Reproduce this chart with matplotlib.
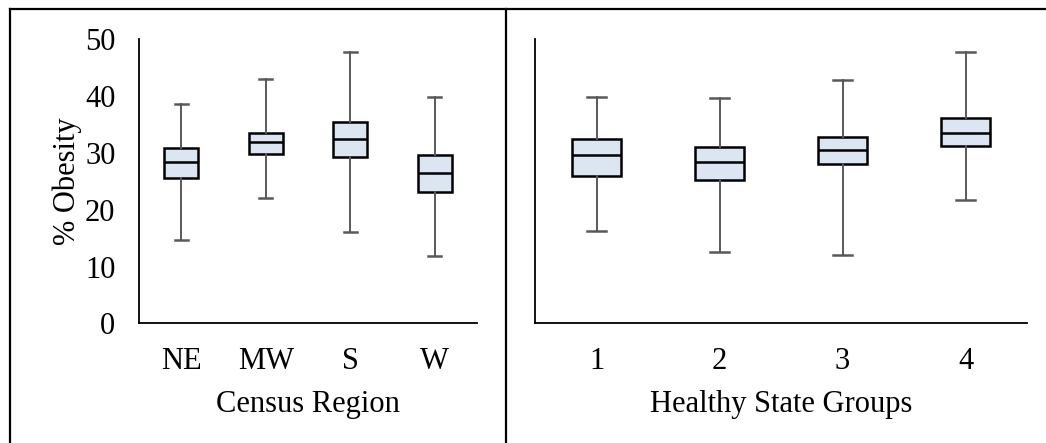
import matplotlib.pyplot as plt
from matplotlib.lines import Line2D

plt.rcParams["font.family"] = ["Liberation Serif", "DejaVu Serif"]

# ===== 数据：箱线图五数 =====
region_labels = ["NE", "MW", "S", "W"]
region_low = [14.7, 22.1, 16.1, 11.8]
region_q1 = [25.6, 29.8, 29.3, 23.1]
region_med = [28.4, 31.9, 32.4, 26.4]
region_q3 = [30.9, 33.6, 35.4, 29.6]
region_high = [38.6, 43.1, 47.8, 39.8]

group_labels = ["1", "2", "3", "4"]
group_low = [16.3, 12.5, 12.1, 21.7]
group_q1 = [25.9, 25.3, 28.1, 31.2]
group_med = [29.6, 28.5, 30.6, 33.6]
group_q3 = [32.5, 31.1, 32.9, 36.2]
group_high = [39.9, 39.6, 42.9, 47.8]

y_ticks = [0, 10, 20, 30, 40, 50]

FS = 22


def make_stats(labels, low, q1, med, q3, high):
    return [dict(label=l, whislo=a, q1=b, med=c, q3=d, whishi=e, fliers=[])
            for l, a, b, c, d, e in zip(labels, low, q1, med, q3, high)]


def draw_box(ax, stats, xlabel):
    ax.bxp(stats, positions=range(1, len(stats) + 1), widths=0.4, capwidths=0.15,
           patch_artist=True, showfliers=False,
           boxprops=dict(facecolor="#dce6f2", edgecolor="black", linewidth=1.8),
           medianprops=dict(color="black", linewidth=1.8),
           whiskerprops=dict(color="#595959", linewidth=1.4),
           capprops=dict(color="#595959", linewidth=1.8))
    ax.set_xlim(0.5, len(stats) + 0.5)
    ax.set_ylim(0, 50)
    for s in ["top", "right"]:
        ax.spines[s].set_visible(False)
    for s in ["left", "bottom"]:
        ax.spines[s].set_linewidth(1.3)
        ax.spines[s].set_color("black")
    ax.tick_params(length=0, labelsize=FS, pad=17)
    ax.set_xlabel(xlabel, fontsize=FS, labelpad=10)


fig = plt.figure(figsize=(10.46, 4.43), dpi=100)
ax1 = fig.add_axes([0.1329, 0.270, 0.3231, 0.641])
ax2 = fig.add_axes([0.5115, 0.270, 0.4704, 0.641])

draw_box(ax1, make_stats(region_labels, region_low, region_q1, region_med, region_q3, region_high),
         "Census Region")
ax1.set_yticks(y_ticks)
ax1.set_ylabel("% Obesity", fontsize=FS, labelpad=2)

draw_box(ax2, make_stats(group_labels, group_low, group_q1, group_med, group_q3, group_high),
         "Healthy State Groups")
ax2.set_yticks([])

# 外框线
fig.add_artist(Line2D([0.0096, 1.0], [0.9786, 0.9786], color="black", linewidth=1.6))
fig.add_artist(Line2D([0.0096, 0.0096], [0.0, 0.9786], color="black", linewidth=1.6))
fig.add_artist(Line2D([0.4837, 0.4837], [0.0, 0.9786], color="black", linewidth=1.6))

fig.savefig("out.png", dpi=100)
